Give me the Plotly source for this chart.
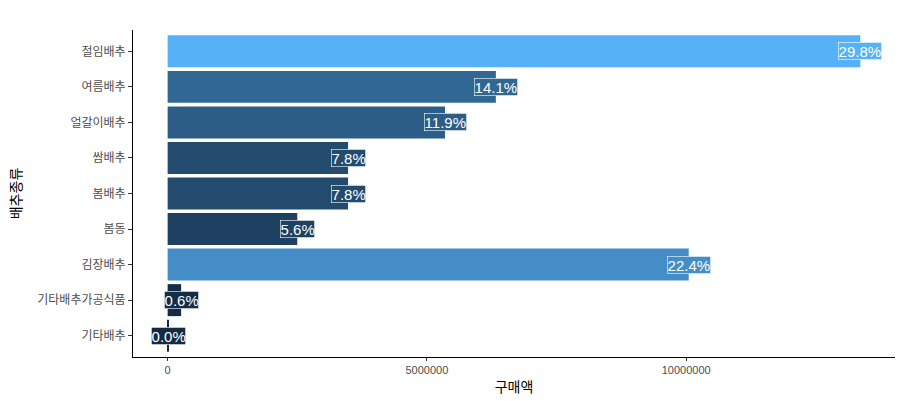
import plotly.graph_objects as go

categories = ["기타배추", "기타배추가공식품", "김장배추", "봄동", "봄배추", "쌈배추", "얼갈이배추", "여름배추", "절임배추"]
amounts = [15000, 260000, 10050000, 2500000, 3480000, 3480000, 5350000, 6330000, 13360000]
pct_labels = ["0.0%", "0.6%", "22.4%", "5.6%", "7.8%", "7.8%", "11.9%", "14.1%", "29.8%"]


# ggplot2-like seq_gradient (#132B43 -> #56B1F7) interpolated in Lab space
def _srgb_to_lin(c):
    c = c / 255.0
    return c / 12.92 if c <= 0.04045 else ((c + 0.055) / 1.055) ** 2.4


def _lin_to_srgb(c):
    c = max(0.0, min(1.0, c))
    v = 12.92 * c if c <= 0.0031308 else 1.055 * c ** (1 / 2.4) - 0.055
    return int(round(max(0, min(1, v)) * 255))


def _hex_to_lab(h):
    r, g, b = [_srgb_to_lin(int(h[i:i + 2], 16)) for i in (1, 3, 5)]
    x = (0.4124 * r + 0.3576 * g + 0.1805 * b) / 0.95047
    y = (0.2126 * r + 0.7152 * g + 0.0722 * b)
    z = (0.0193 * r + 0.1192 * g + 0.9505 * b) / 1.08883
    f = lambda t: t ** (1 / 3) if t > 0.008856 else 7.787 * t + 16 / 116
    fx, fy, fz = f(x), f(y), f(z)
    return (116 * fy - 16, 500 * (fx - fy), 200 * (fy - fz))


def _lab_to_hex(L, a, b):
    fy = (L + 16) / 116
    fx = fy + a / 500
    fz = fy - b / 200
    finv = lambda t: t ** 3 if t ** 3 > 0.008856 else (t - 16 / 116) / 7.787
    x, y, z = finv(fx) * 0.95047, finv(fy), finv(fz) * 1.08883
    r = 3.2406 * x - 1.5372 * y - 0.4986 * z
    g = -0.9689 * x + 1.8758 * y + 0.0415 * z
    bb = 0.0557 * x - 0.2040 * y + 1.0570 * z
    return "#%02X%02X%02X" % (_lin_to_srgb(r), _lin_to_srgb(g), _lin_to_srgb(bb))


lo, hi = _hex_to_lab("#132B43"), _hex_to_lab("#56B1F7")
vmin, vmax = min(amounts), max(amounts)
colors = []
for v in amounts:
    t = (v - vmin) / (vmax - vmin)
    colors.append(_lab_to_hex(*[lo[i] + t * (hi[i] - lo[i]) for i in range(3)]))

fig = go.Figure()
fig.add_trace(go.Bar(
    x=amounts, y=categories, orientation="h",
    marker=dict(color=colors, line=dict(width=0)),
    width=0.9, showlegend=False, hoverinfo="skip",
))

for v, c, lab, col in zip(amounts, categories, pct_labels, colors):
    fig.add_annotation(
        x=v, y=c, xref="x", yref="y", text=lab, showarrow=False,
        font=dict(family="Liberation Sans, Arial, sans-serif", size=15, color="white"),
        bgcolor=col, bordercolor="white", borderwidth=0.6, borderpad=0,
        xanchor="center", yanchor="middle",
    )

xr = [-0.05 * vmax, 1.05 * vmax]
fig.update_layout(
    width=903, height=401,
    margin=dict(l=133, r=8, t=30, b=44),
    plot_bgcolor="white", paper_bgcolor="white",
    bargap=0.1,
    font=dict(family="Noto Sans CJK KR, Liberation Sans, sans-serif"),
    xaxis=dict(
        range=xr, tickvals=[0, 5000000, 10000000],
        ticktext=["0", "5000000", "10000000"],
        showgrid=False, zeroline=False, showline=True, linecolor="black", linewidth=1,
        ticks="outside", ticklen=3, tickcolor="#333333",
        tickfont=dict(family="Liberation Sans, Arial, sans-serif", size=11, color="#4D4D4D"),
        title=dict(text="구매액", font=dict(size=14, color="black"), standoff=6),
    ),
    yaxis=dict(
        categoryorder="array", categoryarray=categories,
        range=[-0.6, len(categories) - 0.4],
        showgrid=False, zeroline=False, showline=True, linecolor="black", linewidth=1,
        ticks="outside", ticklen=4, tickcolor="#333333",
        tickfont=dict(family="Noto Sans CJK KR, sans-serif", size=12, color="#4D4D4D"),
        title=dict(text="배추종류", font=dict(size=14, color="black"), standoff=12),
    ),
)

fig.write_html("out.html")
